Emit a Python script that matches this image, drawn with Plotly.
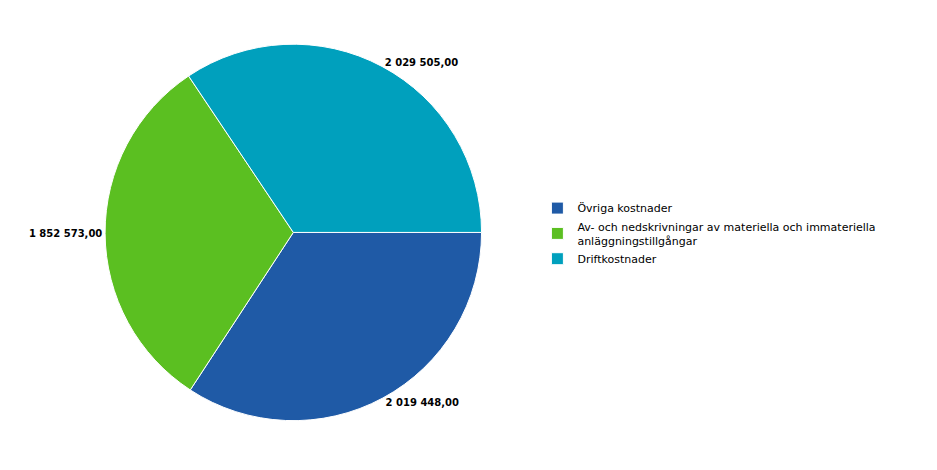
import plotly.graph_objects as go

labels = ["Övriga kostnader",
          "Av- och nedskrivningar av materiella och immateriella<br>anläggningstillgångar",
          "Driftkostnader"]
values = [2019448.00, 1852573.00, 2029505.00]
colors = ["#1f5aa6", "#5bbf21", "#00a0bd"]

def fmt(v):
    s = f"{v:,.2f}"
    return s.replace(",", " ").replace(".", ",")

texts = [fmt(v) for v in values]

fig = go.Figure(go.Pie(
    labels=labels, values=values, text=texts,
    textinfo="text", textposition="outside",
    textfont=dict(family="DejaVu Sans", size=10, color="#000000"),
    marker=dict(colors=colors, line=dict(color="white", width=1)),
    sort=False, direction="clockwise", rotation=90,
    domain=dict(x=[0.103, 0.506], y=[0.122, 0.923]),
))
fig.update_traces(texttemplate="<b>%{text}</b>")
fig.update_layout(
    width=937, height=470,
    margin=dict(l=0, r=0, t=0, b=0),
    paper_bgcolor="white",
    font=dict(family="DejaVu Sans", size=11, color="#000000"),
    legend=dict(x=0.565, y=0.52, xanchor="left", yanchor="middle",
                font=dict(size=11), tracegroupgap=0, itemwidth=30),
)
fig.write_html("out.html")
